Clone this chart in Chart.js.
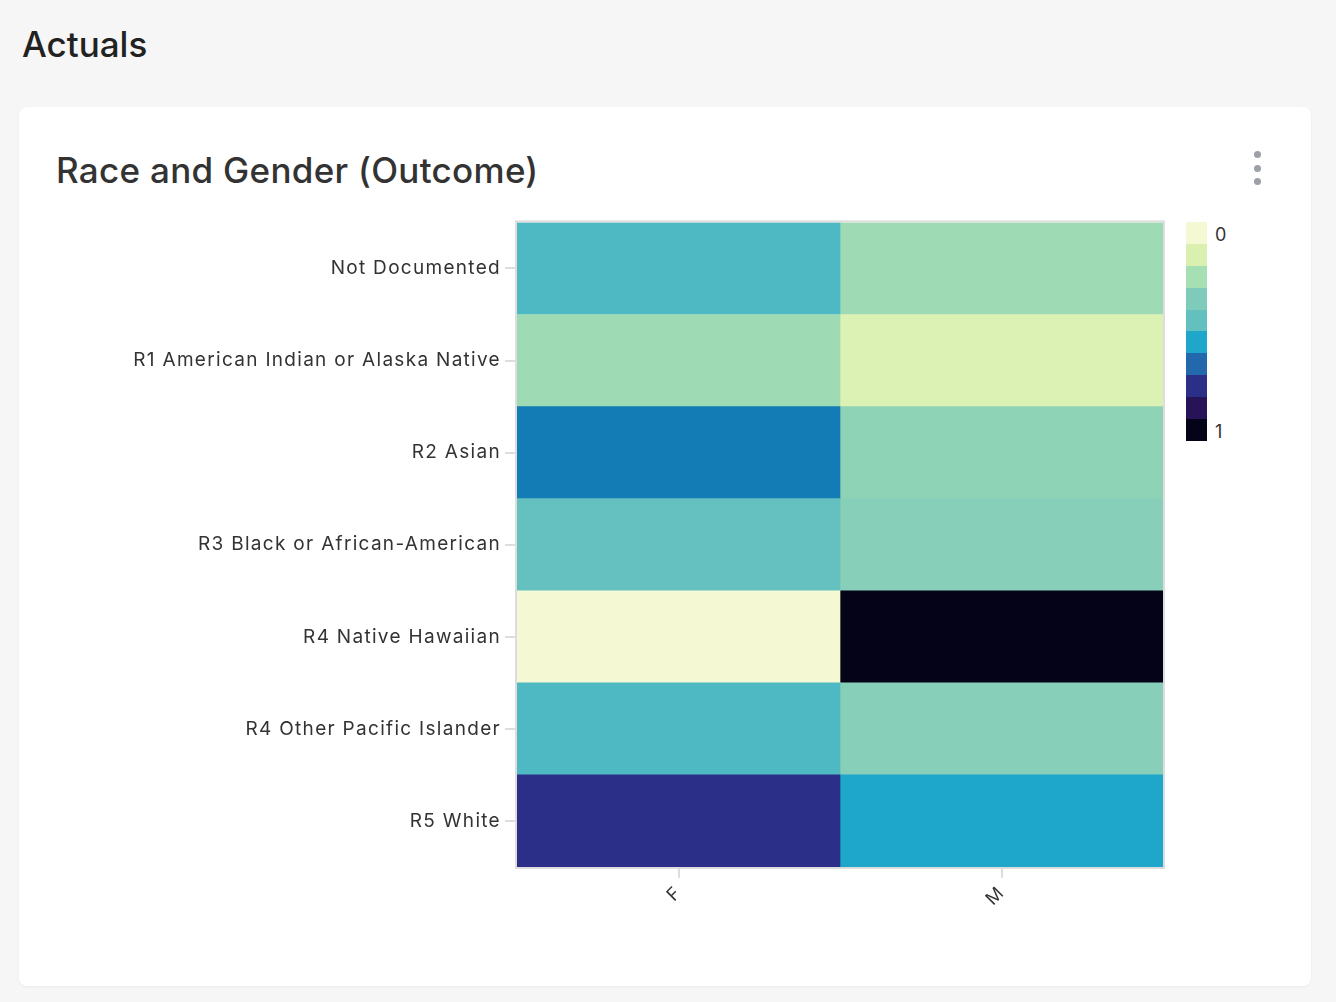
<!DOCTYPE html>
<html>
<head>
<meta charset="utf-8">
<script src="https://cdn.jsdelivr.net/npm/chart.js@4/dist/chart.umd.min.js"></script>
<style>
  body { margin: 0; background: #f6f6f6; font-family: Inter, "Noto Sans", sans-serif; width: 1336px; height: 1002px; position: relative; overflow: hidden; }
  #pageTitle { position: absolute; left: 22px; top: 24px; font-size: 35px; font-weight: 500; color: #222; line-height: 40px; }
  #card { position: absolute; left: 19px; top: 107px; width: 1292px; height: 879px; background: #fff; border-radius: 8px; box-shadow: 0 1px 3px rgba(0,0,0,0.05); }
  #cardTitle { position: absolute; left: 56px; top: 150px; font-size: 35px; font-weight: 500; color: #333; line-height: 40px; letter-spacing: 0.3px; }
  .dot { position: absolute; left: 1254px; width: 7px; height: 7px; border-radius: 50%; background: #9aa0a6; }
  #chartWrap { position: absolute; left: 100px; top: 207px; width: 1070px; height: 723px; }
  #legend { position: absolute; left: 1186px; top: 222px; width: 21px; }
  #legend div { height: 21.9px; }
  .legLabel { position: absolute; left: 1215px; font-size: 18px; color: #333; line-height: 20px; }
</style>
</head>
<body>
<div id="pageTitle">Actuals</div>
<div id="card"></div>
<div id="cardTitle">Race and Gender (Outcome)</div>
<div class="dot" style="top:151px"></div>
<div class="dot" style="top:165px"></div>
<div class="dot" style="top:178px"></div>
<div id="chartWrap"><canvas id="heat" width="1070" height="723"></canvas></div>
<div id="legend"></div>
<div class="legLabel" style="top:225px">0</div>
<div class="legLabel" style="top:422px">1</div>

<script>
// === Data ===
const races = [
  "Not Documented",
  "R1 American Indian or Alaska Native",
  "R2 Asian",
  "R3 Black or African-American",
  "R4 Native Hawaiian",
  "R4 Other Pacific Islander",
  "R5 White",
];
const genders = ["F", "M"];
const femaleValues = [0.48, 0.27, 0.63, 0.44, 0.0, 0.48, 0.75];
const maleValues = [0.27, 0.14, 0.31, 0.33, 1.0, 0.33, 0.55];
const legendTicks = ["0", "1"];

// colour ramp used for the cells, 0 to 1
const legendColors = [
  "#f4f9d4", "#d9f0b0", "#a6dfb3", "#7fcbba", "#62c0bf",
  "#1ea6cb", "#1072b0", "#2b2f88", "#271357", "#040318",
];
// discrete bins shown in the legend bar
const legendBins = [
  "#f4f9d4", "#d9f0b0", "#a6dfb3", "#7fcbba", "#62c0bf",
  "#1ea6cb", "#2268ad", "#2b2f88", "#271357", "#040318",
];

// === Colour scale ===
function hexToRgb(h) {
  return [1, 3, 5].map((i) => parseInt(h.slice(i, i + 2), 16));
}

function colorFor(v) {
  const n = legendColors.length;
  const pos = Math.min(Math.max(v * n - 0.5, 0), n - 1);
  const i = Math.min(Math.floor(pos), n - 2);
  const t = pos - i;
  const a = hexToRgb(legendColors[i]);
  const b = hexToRgb(legendColors[i + 1]);
  const c = a.map((x, k) => Math.round(x + (b[k] - x) * t));
  return `rgb(${c[0]}, ${c[1]}, ${c[2]})`;
}

// === Legend bar ===
const legendEl = document.getElementById("legend");
legendBins.forEach((c) => {
  const d = document.createElement("div");
  d.style.background = c;
  legendEl.appendChild(d);
});

// === Plot border + label spacing ===
const areaBorder = {
  id: "areaBorder",
  beforeLayout(chart) {
    chart.ctx.letterSpacing = "1.3px";
  },
  beforeDraw(chart) {
    chart.ctx.letterSpacing = "1.3px";
  },
  afterDatasetsDraw(chart) {
    const { ctx, chartArea: a } = chart;
    ctx.save();
    ctx.strokeStyle = "#dddddd";
    ctx.lineWidth = 2;
    ctx.strokeRect(a.left - 1, a.top - 1, a.right - a.left + 2, a.bottom - a.top + 2);
    ctx.restore();
  },
};

// === Heatmap ===
const ctx = document.getElementById("heat").getContext("2d");
new Chart(ctx, {
  type: "bar",
  data: {
    labels: races,
    datasets: [
      {
        label: genders[0],
        data: femaleValues.map(() => [0, 1]),
        backgroundColor: femaleValues.map(colorFor),
      },
      {
        label: genders[1],
        data: maleValues.map(() => [1, 2]),
        backgroundColor: maleValues.map(colorFor),
      },
    ],
  },
  options: {
    indexAxis: "y",
    responsive: false,
    animation: false,
    grouped: false,
    barPercentage: 1,
    categoryPercentage: 1,
    borderWidth: 0,
    layout: { padding: { top: 8, right: 7 } },
    plugins: { legend: { display: false }, tooltip: { enabled: false } },
    scales: {
      x: {
        type: "linear",
        min: 0,
        max: 2,
        afterBuildTicks: (s) => {
          s.ticks = genders.map((g, i) => ({ value: i + 0.5 }));
        },
        afterFit: (s) => {
          s.height = 63;
        },
        ticks: {
          callback: (v) => genders[Math.floor(v)],
          minRotation: 45,
          maxRotation: 45,
          padding: 4,
          color: "#333",
          font: { family: "Inter", size: 18 },
        },
        grid: { drawOnChartArea: false, tickLength: 11, color: "#dddddd", lineWidth: 2 },
        border: { display: false },
      },
      y: {
        afterFit: (s) => {
          s.width = 417;
        },
        ticks: {
          color: "#333",
          padding: 4,
          font: { family: "Inter", size: 19 },
        },
        grid: { drawOnChartArea: false, offset: false, tickLength: 12, color: "#dddddd", lineWidth: 2 },
        border: { display: false },
      },
    },
  },
  plugins: [areaBorder],
});
</script>
</body>
</html>
